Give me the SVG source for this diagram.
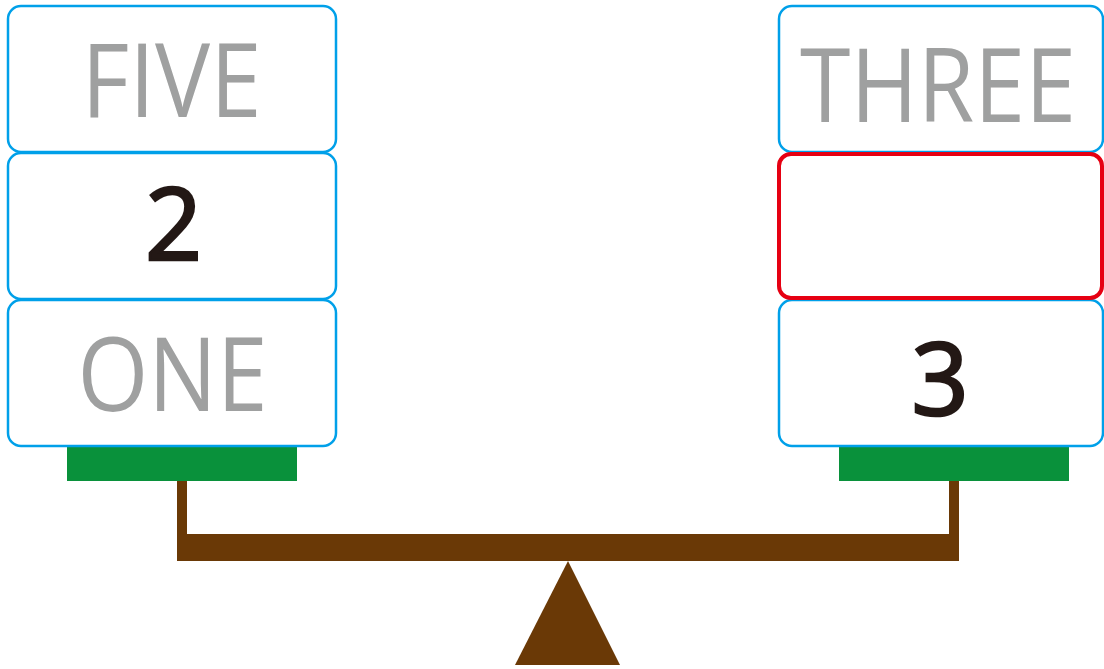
<svg xmlns="http://www.w3.org/2000/svg" width="1104" height="669" viewBox="0 0 1104 669">
<style>
.box{fill:#fff;stroke:#00a0e9;stroke-width:2.5}
.hl{fill:#fff;stroke:#e60012;stroke-width:4}
.word{font-family:"Open Sans","Noto Sans",sans-serif;font-size:103px;fill:#9fa0a0;text-anchor:middle}
.num{font-family:"Open Sans","Noto Sans",sans-serif;font-size:100px;fill:#231815;stroke:#231815;stroke-width:2.6;text-anchor:middle}
.pan{fill:#09913b}
.wood{fill:#6a3906}
</style>
<rect width="1104" height="669" fill="#fff"/>
<g id="beam">
<rect class="wood" x="177" y="481" width="10" height="60"/>
<rect class="wood" x="949" y="481" width="10" height="60"/>
<rect class="wood" x="177" y="534" width="782" height="27"/>
<polygon class="wood" points="568,561 620,665 515,665"/>
</g>
<g id="left-pan"><rect class="pan" x="67" y="446" width="230" height="35"/></g>
<g id="right-pan"><rect class="pan" x="839" y="446" width="230" height="35"/></g>
<g id="left-five"><rect class="box" x="8" y="6" width="328" height="146" rx="13"/><text class="word" x="171.5" y="117" textLength="180" lengthAdjust="spacingAndGlyphs">FIVE</text></g>
<g id="left-two"><rect class="box" x="8" y="153" width="328" height="146" rx="13"/><text class="num" x="173.5" y="260">2</text></g>
<g id="left-one"><rect class="box" x="8" y="300" width="328" height="146" rx="13"/><text class="word" x="172.5" y="411" textLength="190" lengthAdjust="spacingAndGlyphs">ONE</text></g>
<g id="right-three"><rect class="box" x="779" y="6" width="324" height="146" rx="13"/><text class="word" x="938" y="122" textLength="276" lengthAdjust="spacingAndGlyphs">THREE</text></g>
<g id="right-three-num"><rect class="box" x="779" y="300" width="324" height="146" rx="13"/><text class="num" x="940" y="415">3</text></g>
<g id="right-blank"><rect class="hl" x="779" y="154" width="323" height="144" rx="12"/></g>
</svg>
